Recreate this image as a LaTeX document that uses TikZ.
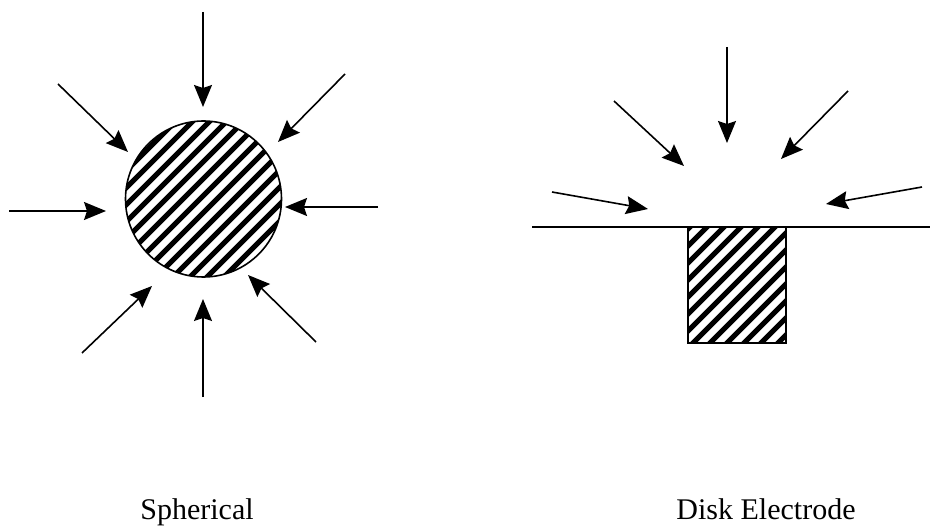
\documentclass[tikz,border=0pt]{standalone}
\usepackage{fontspec}
\setmainfont{Liberation Serif}
\usetikzlibrary{arrows.meta}
\begin{document}
\begin{tikzpicture}[x=1pt,y=-1pt,
  flux/.style={line width=1.6pt,-{Stealth[length=22pt,width=18pt,inset=3pt]}},
  outline/.style={line width=1.6pt},
  hatch/.style={line width=5pt},
  lbl/.style={font=\fontsize{30}{36}\selectfont, anchor=base, inner sep=0pt}]
\useasboundingbox (0,0) rectangle (932,529);
% ---------- spherical electrode ----------
\coordinate (sc) at (203.5,199);
\begin{scope}
  \clip (sc) circle (78);
  \foreach \c in {280,297,...,540} \draw[hatch] (\c-400,400) -- (\c,0);
\end{scope}
\draw[outline] (sc) circle (78);
\coordinate (s1a) at (203,12);   \coordinate (s1b) at (203,107);
\coordinate (s2a) at (345,74);   \coordinate (s2b) at (278,142);
\coordinate (s3a) at (378,207);  \coordinate (s3b) at (285,207);
\coordinate (s4a) at (316,342);  \coordinate (s4b) at (248,275);
\coordinate (s5a) at (203,397);  \coordinate (s5b) at (203,299);
\coordinate (s6a) at (82,353);   \coordinate (s6b) at (152,286);
\coordinate (s7a) at (9,211);    \coordinate (s7b) at (106,211);
\coordinate (s8a) at (58,84);    \coordinate (s8b) at (128,152);
\foreach \i in {1,...,8} \draw[flux] (s\i a) -- (s\i b);
% ---------- disk electrode ----------
\coordinate (pl) at (532,227);
\coordinate (pr) at (930,227);
\begin{scope}
  \clip (688,227) rectangle (786,343);
  \foreach \c in {900,917,...,1140} \draw[hatch] (\c-400,400) -- (\c,0);
\end{scope}
\draw[outline] (688,227) rectangle (786,343);
\draw[outline] (pl) -- (pr);
\coordinate (d1a) at (727,47);   \coordinate (d1b) at (727,143);
\coordinate (d2a) at (614,101);  \coordinate (d2b) at (684,166);
\coordinate (d3a) at (552,192);  \coordinate (d3b) at (648,209);
\coordinate (d4a) at (848,91);   \coordinate (d4b) at (781,159);
\coordinate (d5a) at (922,187);  \coordinate (d5b) at (826,204);
\foreach \i in {1,...,5} \draw[flux] (d\i a) -- (d\i b);
% ---------- labels ----------
\node[lbl] (ls) at (197,519) {Spherical};
\node[lbl] (ld) at (766,519) {Disk Electrode};
\end{tikzpicture}
\end{document}
